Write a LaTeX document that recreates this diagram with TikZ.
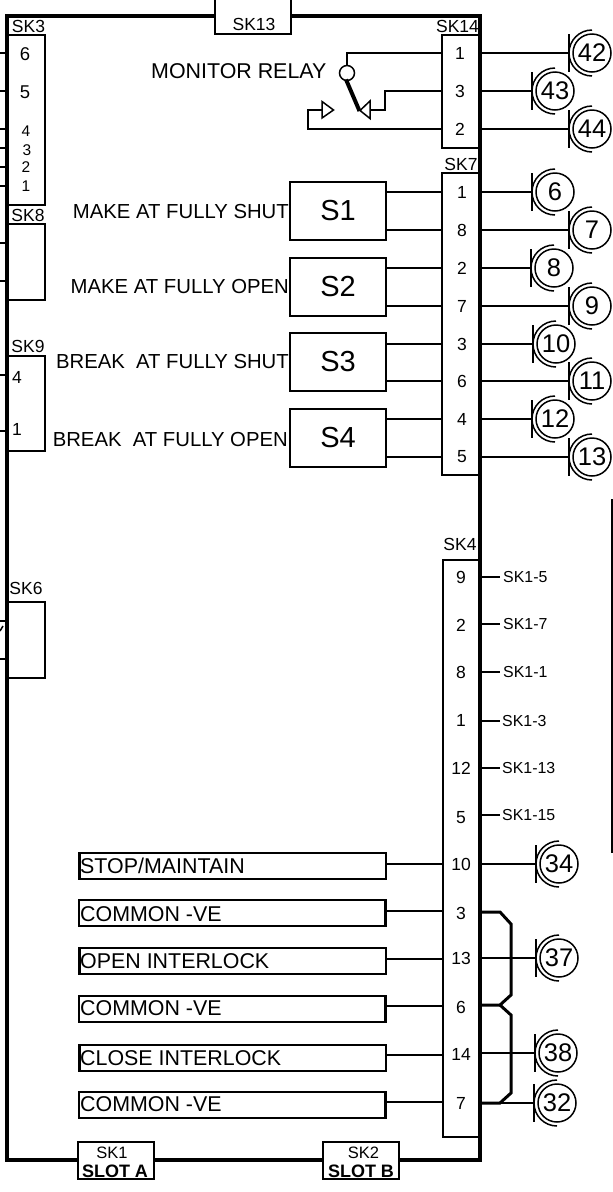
\documentclass[tikz,border=0pt]{standalone}
\usepackage{fontspec}
\setmainfont{Liberation Sans}
\newcommand{\fsz}[1]{\fontsize{#1}{#1}\selectfont}
\tikzset{
  wire/.style={line width=1.5pt,black},
  heavy/.style={line width=3.2pt,black},
  bus/.style={line width=3pt,black,line join=miter},
  pbox/.style={draw=black,line width=1.5pt,fill=white,rectangle,inner sep=0pt,outer sep=0pt,anchor=north west},
  lbox/.style={pbox,line width=2.2pt,minimum width=306.5pt,minimum height=26pt},
  sbox/.style={pbox,minimum width=96pt,minimum height=58pt,anchor=north west,font=\fsz{29}},
  cc/.style={draw=black,line width=1.5pt,circle,minimum size=38pt,inner sep=0pt,outer sep=0pt,font=\fsz{25.5}},
  sk/.style={inner sep=0pt,font=\fsz{17.5}},
  pin/.style={inner sep=0pt,font=\fsz{17.5}},
  desc/.style={inner sep=0pt,anchor=base east,font=\fsz{20.3}},
  ltxt/.style={inner sep=0pt,anchor=base west,font=\fsz{21.4}},
  ref/.style={inner sep=0pt,anchor=west,font=\fsz{15.9}},
}
\newcommand{\contact}[4]{%
  \coordinate (p#1) at (481,#2);
  \coordinate (b#1) at (#3,#2);
  \node[cc] (c#1) at (#3+23,#2) {#4};
  \draw[wire] (p#1) -- (b#1);
  \draw[wire] ([yshift=19pt]b#1) -- ([yshift=-19pt]b#1);
  \draw[wire] ([shift={(90:23pt)}]c#1.center) arc[start angle=90,end angle=270,radius=23pt];
}
\newcommand{\stub}[2]{%
  \coordinate (st#1) at (0,#2);
  \coordinate (se#1) at (7,#2);
  \draw[wire] (st#1) -- (se#1);
}
\newcommand{\refline}[4]{%
  \coordinate (rf#1) at (482,#2);
  \node[ref] (rt#1) at (#3,#2) {#4};
  \draw[wire] (rf#1) -- (500,#2);
}
\begin{document}
\begin{tikzpicture}[x=1pt,y=-1pt]
\useasboundingbox (0,0) rectangle (613,1192);
% frame
\coordinate (tl) at (7,16); \coordinate (tr) at (480,16);
\coordinate (br) at (480,1160); \coordinate (bl) at (7,1160);
\draw[heavy,line join=miter] (tl) -- (tr) -- (br) -- (bl) -- cycle;
% top box
\node[pbox,minimum width=76pt,minimum height=36pt] (sk13) at (215,-2) {};
\node[sk] (sk13t) at (254,24) {SK13};
% left connector blocks
\node[pbox,minimum width=37pt,minimum height=170pt] (sk3) at (8,35) {};
\node[sk] (sk3t) at (28.5,26) {SK3};
\node[pin,font=\fsz{18.5}] (s3a) at (25,54) {6};
\node[pin,font=\fsz{18.5}] (s3b) at (25,92) {5};
\node[pin,font=\fsz{15.5}] (s3c) at (26,131) {4};
\node[pin,font=\fsz{15.5}] (s3d) at (27,150) {3};
\node[pin,font=\fsz{15.5}] (s3e) at (26,167) {2};
\node[pin,font=\fsz{15.5}] (s3f) at (26,186) {1};
\stub{a}{53}\stub{b}{91}\stub{c}{129}\stub{d}{148}\stub{e}{167}\stub{f}{186}
\node[pbox,minimum width=37pt,minimum height=76pt] (sk8) at (8,224) {};
\node[sk] (sk8t) at (28,215) {SK8};
\stub{g}{243}\stub{h}{281}
\node[pbox,minimum width=37pt,minimum height=95pt] (sk9) at (8,356) {};
\node[sk] (sk9t) at (28,346) {SK9};
\node[pin] (s9a) at (17,377) {4};
\node[pin] (s9b) at (17,429) {1};
\stub{i}{375}\stub{j}{431}
\node[pbox,minimum width=37pt,minimum height=76pt] (sk6) at (8,602) {};
\node[sk] (sk6t) at (26,588) {SK6};
\stub{k}{621}\stub{l}{659}
\coordinate (ya) at (0,631);
\coordinate (yb) at (3,626);
\draw[wire] (ya) -- (yb);
% right connector blocks
\node[pbox,minimum width=38pt,minimum height=113pt] (sk14) at (442,35) {};
\node[sk] (sk14t) at (457.5,26) {SK14};
\node[pbox,minimum width=38pt,minimum height=302pt] (sk7) at (442,173) {};
\node[sk] (sk7t) at (461,164) {SK7};
\node[pbox,minimum width=37pt,minimum height=577pt] (sk4) at (443,560) {};
\node[sk] (sk4t) at (460,544) {SK4};
\draw[heavy] (480,30) -- (480,1160);
% relay
\node[draw=black,line width=1.5pt,circle,minimum size=15pt,inner sep=0pt,outer sep=0pt] (rel) at (347,73) {};
\coordinate (c1) at (442,53);
\coordinate (c3) at (442,91);
\coordinate (c2) at (442,129);
\draw[wire] (c1) -- (347,53) -- (rel.north);
\coordinate (cont) at (359.5,111);
\draw[line width=4pt,black] (rel.south) ++(-1,-1) -- (cont);
\draw[wire,line join=miter] (370,101) -- (360,110.5) -- (370,118.5) -- cycle;
\draw[wire] (c3) -- (385,91) -- (385,110) -- (370,110);
\draw[wire,line join=miter] (322,101.5) -- (333.5,110) -- (322,118) -- cycle;
\draw[wire] (c2) -- (308,129) -- (308,110) -- (322,110);
\node[ltxt] (mon) at (151,78.3) {MONITOR RELAY};
\foreach \t/\y/\n in {1/53/a,3/91/b,2/129/c}
  \node[pin] (n14\n) at (460,\y) {\t};
\foreach \t/\y/\n in {1/192/a,8/230/b,2/268/c,7/306/d,3/344/e,6/381/f,4/419/g,5/457/h}
  \node[pin] (n7\n) at (462,\y) {\t};
% switches
\node[sbox] (s1) at (290,182) {}; \node[inner sep=0pt,font=\fsz{29}] (s1t) at (338,211) {S1};
\node[sbox] (s2) at (290,258) {}; \node[inner sep=0pt,font=\fsz{29}] (s2t) at (338,287) {S2};
\node[sbox] (s3) at (290,333) {}; \node[inner sep=0pt,font=\fsz{29}] (s3t) at (338,362) {S3};
\node[sbox] (s4) at (290,409) {}; \node[inner sep=0pt,font=\fsz{29}] (s4t) at (338,438) {S4};
\draw[wire] (s1.east |- 0,192) -- (442,192);
\draw[wire] (s1.east |- 0,230) -- (442,230);
\draw[wire] (s2.east |- 0,268) -- (442,268);
\draw[wire] (s2.east |- 0,306) -- (442,306);
\draw[wire] (s3.east |- 0,344) -- (442,344);
\draw[wire] (s3.east |- 0,381) -- (442,381);
\draw[wire] (s4.east |- 0,419) -- (442,419);
\draw[wire] (s4.east |- 0,457) -- (442,457);
\node[desc] (d1) at (289,218.3) {MAKE AT FULLY SHUT};
\node[desc] (d2) at (289,293.3) {MAKE AT FULLY OPEN};
\node[desc] (d3) at (289,368) {BREAK\ \ AT FULLY SHUT};
\node[desc] (d4) at (288,446.7) {BREAK\ \ AT FULLY OPEN};
% contacts upper
\contact{42}{53}{569}{42}
\contact{43}{91}{532}{43}
\contact{44}{129}{569}{44}
\contact{6}{192}{532}{6}
\contact{7}{230}{569}{7}
\contact{8}{268}{531}{8}
\contact{9}{306}{569}{9}
\contact{10}{344}{533}{10}
\contact{11}{381}{569}{11}
\contact{12}{419}{532}{12}
\contact{13}{457}{569}{13}
% SK4 numbers and references
\foreach \t/\y/\n in {9/577/a,2/625/b,8/672/c,1/720/d,12/768/e,5/818/f,10/864/g,3/913/h,13/958/i,6/1007/j,14/1054/k,7/1103/l}
  \node[pin] (n4\n) at (461,\y) {\t};
\refline{a}{577}{503}{SK1-5}
\refline{b}{624}{503}{SK1-7}
\refline{c}{672}{503}{SK1-1}
\refline{d}{721}{502}{SK1-3}
\refline{e}{768}{502}{SK1-13}
\refline{f}{815}{502}{SK1-15}
% lower label boxes
\node[lbox] (l1) at (79.5,853) {};
\node[lbox] (l2) at (79,900) {};
\node[lbox] (l3) at (79.5,948) {};
\node[lbox] (l4) at (79,996) {};
\node[lbox] (l5) at (79.5,1045) {};
\node[lbox] (l6) at (79,1092) {};
\node[ltxt] (l1t) at (80,873.3) {STOP/MAINTAIN};
\node[ltxt] (l2t) at (80,921) {COMMON -VE};
\node[ltxt] (l3t) at (80,968) {OPEN INTERLOCK};
\node[ltxt] (l4t) at (80,1015.7) {COMMON -VE};
\node[ltxt] (l5t) at (80,1065) {CLOSE INTERLOCK};
\node[ltxt] (l6t) at (80,1111.7) {COMMON -VE};
\draw[wire] (l1.east |- 0,864) -- (443,864);
\draw[wire] (l2.east |- 0,911) -- (443,911);
\draw[wire] (l3.east |- 0,959) -- (443,959);
\draw[wire] (l4.east |- 0,1006) -- (443,1006);
\draw[wire] (l5.east |- 0,1055) -- (443,1055);
\draw[wire] (l6.east |- 0,1102) -- (443,1102);
% lower contacts
\contact{34}{864}{536}{34}
\contact{37}{958}{536}{37}
\contact{38}{1053}{535}{38}
\contact{32}{1103}{534}{32}
% bus
\coordinate (bu1) at (480,912);
\coordinate (bu2) at (480,1005);
\coordinate (bu3) at (480,1103);
\draw[bus] (bu1) -- (500,912) -- (511,924) -- (511,995) -- (500,1005) -- (bu2);
\draw[bus] (500,1005) -- (511,1015) -- (511,1093) -- (500,1103) -- (bu3);
% slots
\node[pbox,minimum width=76pt,minimum height=37pt] (sk1) at (78,1142) {};
\node[inner sep=0pt,font=\fsz{16.5}] (sk1a) at (112,1153) {SK1};
\node[inner sep=0pt,font=\fsz{18}\bfseries] (sk1b) at (115,1171) {SLOT A};
\node[pbox,minimum width=76pt,minimum height=37pt] (sk2) at (323,1142) {};
\node[inner sep=0pt,font=\fsz{16.5}] (sk2a) at (363.5,1153) {SK2};
\node[inner sep=0pt,font=\fsz{18}\bfseries] (sk2b) at (361,1171) {SLOT B};
% right edge rule
\coordinate (ra) at (612,499);
\coordinate (rb) at (612,853);
\draw[line width=2pt,black] (ra) -- (rb);
\end{tikzpicture}
\end{document}
